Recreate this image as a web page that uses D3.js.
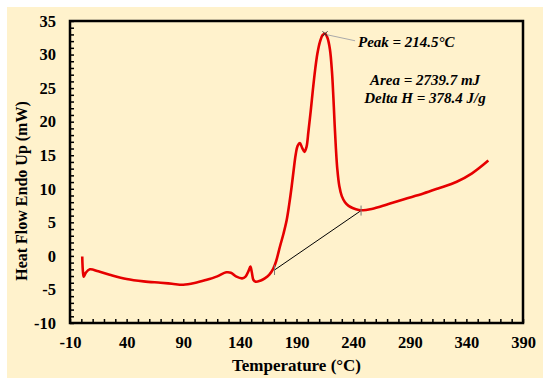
<!DOCTYPE html>
<html>
<head>
<meta charset="utf-8">
<script src="https://cdn.jsdelivr.net/npm/d3@7"></script>
<style>
  body { margin: 0; background: #fff; }
  svg text { font-family: "Liberation Serif", "Times New Roman", serif; }
</style>
</head>
<body>
<svg id="chart" width="550" height="387"></svg>
<script>
// DSC curve
const temperature = [0.8, 1.5, 2.2, 4, 7.5, 15, 25, 40, 55, 70, 80, 90, 100, 110, 120, 128, 132, 137, 142, 145,
  147.5, 149.3, 150.5, 152, 154, 158, 162, 166, 169.5, 172, 175.4, 178.5, 181.3, 183.5, 185.7, 187.5, 189.2,
  191, 193, 195, 197, 198.8, 200.5, 202.5, 204.5, 206.5, 208.5, 210.7, 213, 215.2, 217.3, 219.5, 221.3,
  222.6, 223.7, 224.8, 226, 227.8, 230, 232.8, 236, 240, 245, 249, 255, 263, 272.6, 285, 302, 315, 331.5, 345, 359.4]
const heatFlow = [-0.1, -2.5, -3.1, -2.5, -2.0, -2.3, -2.8, -3.45, -3.8, -4.0, -4.15, -4.3, -4.05, -3.6, -3.05, -2.45, -2.5, -3.1, -3.35, -3.1,
  -2.3, -1.6, -2.4, -3.6, -3.85, -3.7, -3.35, -2.8, -1.9, -0.8, 1.4, 3.3, 5.3, 7.6, 10.3, 12.8, 15.0,
  16.4, 16.8, 16.1, 15.5, 16.2, 18.5, 21.5, 24.8, 27.8, 30.2, 31.9, 32.9, 33.1, 32.5, 30.8, 27.5,
  23.5, 19.5, 16.0, 13.0, 10.4, 8.9, 8.0, 7.45, 7.1, 6.85, 6.8, 6.95, 7.3, 7.8, 8.45, 9.3, 10.05, 11.05, 12.3, 14.2]

// integration baseline endpoints
const baseT = [170.6, 247]
const baseH = [-2.1, 6.75]
const peakT = 215.2, peakH = 33.1

const xTicks = [-10, 40, 90, 140, 190, 240, 290, 340, 390]
const yTicks = [-10, -5, 0, 5, 10, 15, 20, 25, 30, 35]

const svg = d3.select('#chart')
const margin = { left: 70, top: 21, right: 27, bottom: 64 }
const W = 550, H = 387
const innerW = W - margin.left - margin.right
const innerH = H - margin.top - margin.bottom

// cream background
svg.append('rect').attr('x', 7).attr('y', 7).attr('width', 536).attr('height', 371).attr('fill', '#fff2cc')

const g = svg.append('g').attr('transform', 'translate(' + margin.left + ',' + margin.top + ')')

const x = d3.scaleLinear().domain([-10, 390]).range([0, innerW])
const y = d3.scaleLinear().domain([-10, 35]).range([innerH, 0])

// minor ticks (inward)
const xAxisMinor = d3.axisTop(x).tickValues(d3.range(-10, 391, 10)).tickSize(4).tickFormat('')
g.append('g').attr('transform', 'translate(0,' + innerH + ')').call(xAxisMinor)
  .call(s => s.select('.domain').remove())
  .selectAll('line').attr('stroke', '#000').attr('stroke-width', 1.5)

const yAxisMinor = d3.axisRight(y).tickValues(d3.range(-10, 35.1, 1)).tickSize(4).tickFormat('')
g.append('g').call(yAxisMinor)
  .call(s => s.select('.domain').remove())
  .selectAll('line').attr('stroke', '#000').attr('stroke-width', 1.5)

// labels (plain hyphen for negatives, like the original)
const xAxis = d3.axisBottom(x).tickValues(xTicks).tickSize(0).tickPadding(13).tickFormat(d => String(d))
g.append('g').attr('transform', 'translate(0,' + innerH + ')').call(xAxis)
  .call(s => s.select('.domain').remove())
  .selectAll('text').attr('font-size', 16.5).attr('font-weight', 'bold').attr('fill', '#000')
  .style('font-family', '"Liberation Serif", serif')

const yAxis = d3.axisLeft(y).tickValues(yTicks).tickSize(0).tickPadding(14).tickFormat(d => String(d))
g.append('g').call(yAxis)
  .call(s => s.select('.domain').remove())
  .selectAll('text').attr('font-size', 16.5).attr('font-weight', 'bold').attr('fill', '#000')
  .style('font-family', '"Liberation Serif", serif')

// frame
g.append('rect').attr('width', innerW).attr('height', innerH)
  .attr('fill', 'none').attr('stroke', '#000').attr('stroke-width', 2.5)

// baseline
g.append('line')
  .attr('x1', x(baseT[0])).attr('y1', y(baseH[0]))
  .attr('x2', x(baseT[1])).attr('y2', y(baseH[1]))
  .attr('stroke', '#000').attr('stroke-width', 1)

// curve
const pts = temperature.map((t, i) => [t, heatFlow[i]])
g.append('path').datum(pts)
  .attr('fill', 'none').attr('stroke', '#e60000').attr('stroke-width', 2.6)
  .attr('d', d3.line().x(d => x(d[0])).y(d => y(d[1])).curve(d3.curveCatmullRom.alpha(0.5)))

// baseline end markers
baseT.forEach((t, i) => {
  g.append('line')
    .attr('x1', x(t)).attr('x2', x(t))
    .attr('y1', y(baseH[i]) - 5).attr('y2', y(baseH[i]) + 5)
    .attr('stroke', '#777').attr('stroke-width', 1)
})

// peak marker and label
const px = x(peakT), py = y(peakH)
g.append('path').attr('d', 'M' + (px - 2.5) + ',' + (py - 2.5) + 'L' + (px + 2.5) + ',' + (py + 2.5) +
  'M' + (px - 2.5) + ',' + (py + 2.5) + 'L' + (px + 2.5) + ',' + (py - 2.5))
  .attr('stroke', '#333').attr('stroke-width', 1)
g.append('line').attr('x1', px + 2).attr('y1', py + 1).attr('x2', px + 30).attr('y2', py + 7)
  .attr('stroke', '#aaa').attr('stroke-width', 1)

svg.append('text').attr('x', 358).attr('y', 47).text('Peak = 214.5°C')
  .attr('font-size', 15).attr('font-weight', 'bold').attr('font-style', 'italic')
svg.append('text').attr('x', 425).attr('y', 85).attr('text-anchor', 'middle').text('Area = 2739.7 mJ')
  .attr('font-size', 15).attr('font-weight', 'bold').attr('font-style', 'italic')
svg.append('text').attr('x', 425).attr('y', 103).attr('text-anchor', 'middle').text('Delta H = 378.4 J/g')
  .attr('font-size', 15).attr('font-weight', 'bold').attr('font-style', 'italic')

// axis titles
svg.append('text').attr('x', margin.left + innerW / 2).attr('y', 371).attr('text-anchor', 'middle')
  .text('Temperature (°C)').attr('font-size', 17).attr('font-weight', 'bold')
svg.append('text').attr('transform', 'translate(27,191) rotate(-90)').attr('text-anchor', 'middle')
  .text('Heat Flow Endo Up (mW)').attr('font-size', 16).attr('font-weight', 'bold')
</script>
</body>
</html>
